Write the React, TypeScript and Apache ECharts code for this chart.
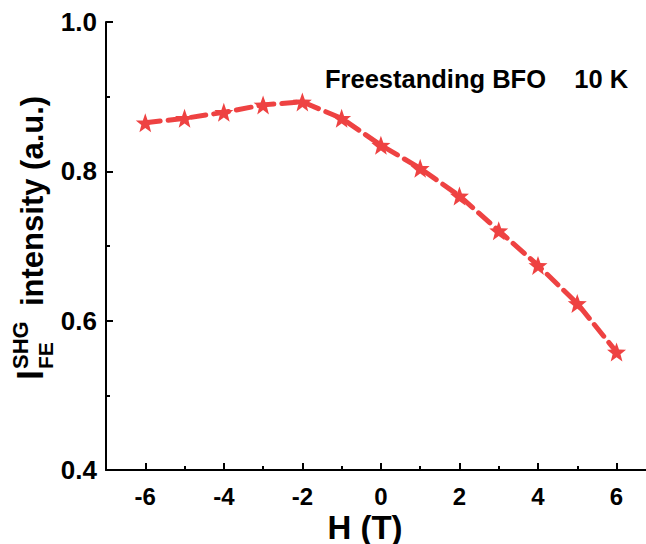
import React, { useEffect, useRef } from "react";
import * as echarts from "echarts";

const fieldValues = [-6, -5, -4, -3, -2, -1, 0, 1, 2, 3, 4, 5, 6];
const intensity = [0.865, 0.871, 0.879, 0.889, 0.893, 0.871, 0.835, 0.804, 0.767, 0.7205, 0.674, 0.623, 0.558];
const xMajorTicks = [-6, -4, -2, 0, 2, 4, 6];
const xMinorTicks = [-5, -3, -1, 1, 3, 5];
const yTicks = [0.4, 0.6, 0.8, 1.0];
const annotation = "Freestanding BFO    10 K";
const xTitle = "H (T)";
const yTitleMain = "I";
const yTitleSup = "SHG";
const yTitleSub = "FE";
const yTitleRest = "intensity (a.u.)";

const FONT = "'Liberation Sans', Arial, Helvetica, sans-serif";
const RED = "#EE4242";

export default function App() {
  const ref = useRef<HTMLDivElement>(null);
  useEffect(() => {
    if (!ref.current) return;
    const chart = echarts.init(ref.current, null, { renderer: "svg" });
    const data = fieldValues.map((x, i) => [x, intensity[i]]);
    const axisLine = { show: true, onZero: false, lineStyle: { color: "#000", width: 2 } };
    chart.setOption({
      animation: false,
      grid: { left: 106, right: 0, top: 22, bottom: 74, containLabel: false },
      xAxis: [
        {
          type: "value",
          min: -7,
          max: 6.75,
          position: "bottom",
          axisLine,
          splitLine: { show: false },
          axisTick: { show: true, inside: true, length: 7, customValues: xMajorTicks, lineStyle: { color: "#000", width: 2 } },
          axisLabel: {
            show: true,
            customValues: xMajorTicks,
            margin: 14,
            fontFamily: FONT,
            fontWeight: "bold",
            fontSize: 24,
            lineHeight: 24,
            color: "#000",
          },
        },
        {
          type: "value",
          min: -7,
          max: 6.75,
          position: "bottom",
          axisLine: { show: false },
          splitLine: { show: false },
          axisTick: { show: true, inside: true, length: 4, customValues: xMinorTicks, lineStyle: { color: "#000", width: 2 } },
          axisLabel: { show: false },
        },
      ],
      yAxis: {
        type: "value",
        min: 0.4,
        max: 1.0,
        interval: 0.2,
        axisLine,
        splitLine: { show: false },
        axisTick: { show: true, inside: true, length: 7, lineStyle: { color: "#000", width: 2 } },
        minorTick: { show: true, splitNumber: 2, length: 4, lineStyle: { color: "#000", width: 2 } },
        minorSplitLine: { show: false },
        axisLabel: {
          customValues: yTicks,
          margin: 9,
          fontFamily: FONT,
          fontWeight: "bold",
          fontSize: 26,
          color: "#000",
          formatter: (v: number) => v.toFixed(1),
        },
      },
      series: [
        {
          type: "line",
          data,
          symbol: "path://M12,0 L14.94,8.09 L23.41,8.29 L16.75,13.46 L19.05,21.71 L12,16.8 L4.95,21.71 L7.25,13.46 L0.59,8.29 L9.06,8.09 Z",
          symbolSize: 19,
          itemStyle: { color: RED },
          lineStyle: { color: RED, width: 5, type: [15, 8], cap: "round" },
          z: 3,
        },
      ],
      graphic: [
        {
          type: "text",
          x: 325,
          y: 79,
          style: { text: annotation, fontFamily: FONT, fontWeight: "bold", fontSize: 25.5, fill: "#000", align: "left", verticalAlign: "middle" },
        },
        {
          type: "text",
          x: 365,
          y: 527,
          style: { text: xTitle, fontFamily: FONT, fontWeight: "bold", fontSize: 33, lineHeight: 32, fill: "#000", align: "center", verticalAlign: "middle" },
        },
        {
          type: "group",
          x: 43,
          y: 380,
          rotation: Math.PI / 2,
          children: [
            {
              type: "text",
              x: 0,
              y: -13,
              style: { text: yTitleMain, fontFamily: FONT, fontWeight: "bold", fontSize: 36, fill: "#000", align: "left", verticalAlign: "middle" },
            },
            {
              type: "text",
              x: 11,
              y: -23,
              style: { text: yTitleSup, fontFamily: FONT, fontWeight: "bold", fontSize: 22, fill: "#000", align: "left", verticalAlign: "middle" },
            },
            {
              type: "text",
              x: 11,
              y: 2,
              style: { text: yTitleSub, fontFamily: FONT, fontWeight: "bold", fontSize: 21, fill: "#000", align: "left", verticalAlign: "middle" },
            },
            {
              type: "text",
              x: 74,
              y: -11,
              style: { text: yTitleRest, fontFamily: FONT, fontWeight: "bold", fontSize: 31, fill: "#000", align: "left", verticalAlign: "middle" },
            },
          ],
        },
      ],
    });
    return () => chart.dispose();
  }, []);
  return <div ref={ref} style={{ width: 646, height: 544, position: "absolute", left: 0, top: 0 }} />;
}
